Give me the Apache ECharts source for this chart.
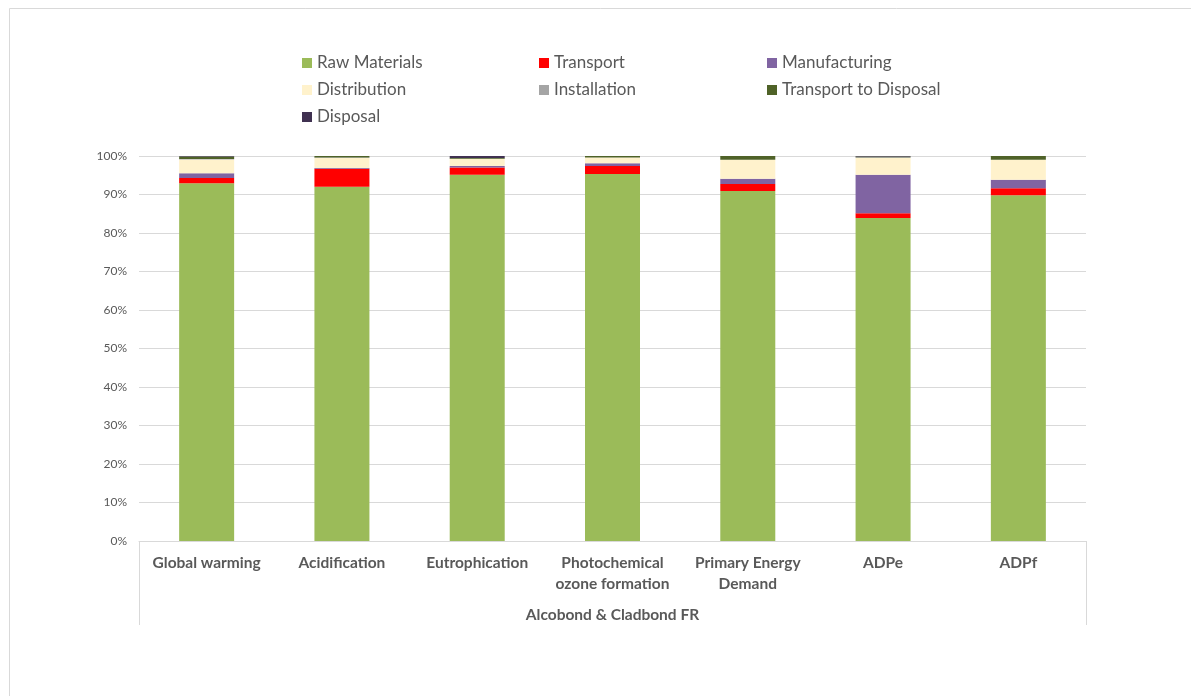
<!DOCTYPE html>
<html>
<head>
<meta charset="utf-8">
<script src="https://cdn.jsdelivr.net/npm/echarts@6/dist/echarts.min.js"></script>
<style>
html,body{margin:0;padding:0;background:#fff;}
#chart{width:1191px;height:696px;}
</style>
</head>
<body>
<div id="chart"></div>
<script>
const categories = ['Global warming', 'Acidification', 'Eutrophication', 'Photochemical\nozone formation', 'Primary Energy\nDemand', 'ADPe', 'ADPf'];
const groupLabel = ['Alcobond & Cladbond FR'];
const rawMaterials   = [92.9, 92.0, 95.1, 95.3, 90.9, 83.9, 89.8];
const transport      = [1.4, 4.7, 1.9, 2.1, 1.8, 1.2, 1.8];
const manufacturing  = [1.2, 0.2, 0.4, 0.7, 1.4, 10.0, 2.2];
const distribution   = [3.6, 2.6, 1.8, 1.5, 4.9, 4.4, 5.2];
const installation   = [0.1, 0.1, 0.1, 0.0, 0.0, 0.2, 0.0];
const transportDisp  = [0.7, 0.4, 0.2, 0.4, 1.0, 0.2, 1.0];
const disposal       = [0.1, 0.0, 0.5, 0.0, 0.0, 0.1, 0.0];
const yTicks = [0, 10, 20, 30, 40, 50, 60, 70, 80, 90, 100];

const FONT = 'Lato, "Open Sans", sans-serif';
const seriesDefs = [
  ['Raw Materials', rawMaterials, '#9BBB59'],
  ['Transport', transport, '#FF0000'],
  ['Manufacturing', manufacturing, '#8064A2'],
  ['Distribution', distribution, '#FFF2CC'],
  ['Installation', installation, '#A5A5A5'],
  ['Transport to Disposal', transportDisp, '#4F6228'],
  ['Disposal', disposal, '#403151']
];

const legendBase = {
  orient: 'vertical', top: 49, itemWidth: 10, itemHeight: 10, itemGap: 9,
  icon: 'rect', selectedMode: false,
  textStyle: { fontFamily: FONT, fontSize: 17, color: '#595959', lineHeight: 18 }
};

const chart = echarts.init(document.getElementById('chart'), null, { renderer: 'canvas' });
chart.setOption({
  animation: false,
  backgroundColor: '#fff',
  graphic: [{
    type: 'rect', left: 7, top: 6, shape: { width: 1250, height: 760 },
    style: { fill: 'none', stroke: '#d9d9d9', lineWidth: 1 }, silent: true
  }],
  legend: [
    Object.assign({}, legendBase, { left: 297, data: ['Raw Materials', 'Distribution', 'Disposal'] }),
    Object.assign({}, legendBase, { left: 534, data: ['Transport', 'Installation'] }),
    Object.assign({}, legendBase, { left: 762, data: ['Manufacturing', 'Transport to Disposal'] })
  ],
  grid: { left: 139, right: 105, top: 156, bottom: 155, containLabel: false },
  xAxis: [{
    type: 'category', data: categories, position: 'bottom',
    axisLine: { show: true, lineStyle: { color: '#d9d9d9', width: 1 } },
    axisTick: { show: false },
    axisLabel: { fontFamily: FONT, fontSize: 15.5, fontWeight: 'bold', color: '#595959', margin: 11, lineHeight: 21, interval: 0 }
  }, {
    type: 'category', data: groupLabel, position: 'bottom', gridIndex: 0,
    axisLine: { show: false },
    axisTick: { show: true, length: 84, lineStyle: { color: '#d9d9d9', width: 1 } },
    axisLabel: { fontFamily: FONT, fontSize: 15.5, fontWeight: 'bold', color: '#595959', margin: 66 }
  }],
  yAxis: {
    type: 'value', min: 0, max: 100, interval: 10,
    axisLine: { show: false }, axisTick: { show: false },
    splitLine: { lineStyle: { color: '#d9d9d9', width: 1 } },
    axisLabel: { fontFamily: FONT, fontSize: 12, color: '#595959', margin: 12, formatter: v => v + '%' }
  },
  series: seriesDefs.map(([name, data, color]) => ({
    name, type: 'bar', stack: 'total', data, barWidth: 55, xAxisIndex: 0,
    itemStyle: { color }
  }))
});
</script>
</body>
</html>
